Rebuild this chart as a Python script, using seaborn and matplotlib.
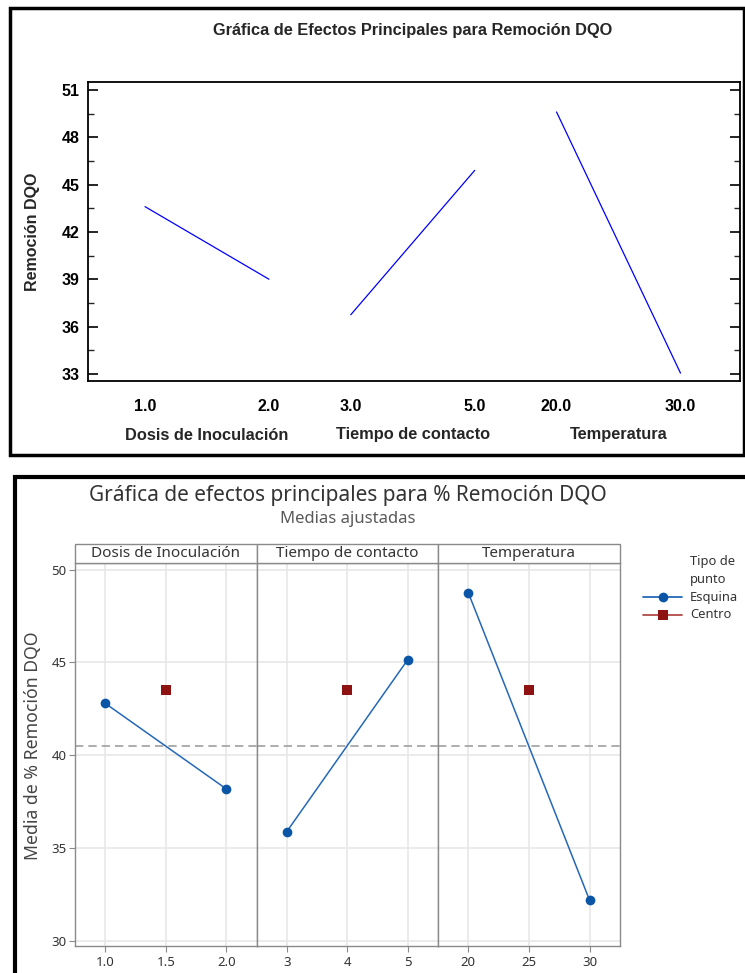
import matplotlib
matplotlib.use("Agg")
import matplotlib.pyplot as plt
import seaborn as sns
import pandas as pd
from matplotlib.patches import Rectangle
from matplotlib.lines import Line2D
from matplotlib.ticker import MultipleLocator

# ---------------- data ----------------
factors = ["Dosis de Inoculación", "Tiempo de contacto", "Temperatura"]

# top chart (Statgraphics style)
top_level_labels = [["1.0", "2.0"], ["3.0", "5.0"], ["20.0", "30.0"]]
top_means = [[43.6, 39.0], [36.75, 45.9], [49.6, 33.05]]
top_yticks = [33, 36, 39, 42, 45, 48, 51]

# bottom chart (Minitab style)
bot_levels = [[1.0, 2.0], [3, 5], [20, 30]]
bot_corner_means = [[42.8, 38.2], [35.9, 45.15], [48.75, 32.2]]
bot_center_levels = [1.5, 4, 25]
bot_center_mean = [43.5, 43.5, 43.5]
grand_mean = 40.5
bot_xticks = [[1.0, 1.5, 2.0], [3, 4, 5], [20, 25, 30]]
bot_xticklabels = [["1.0", "1.5", "2.0"], ["3", "4", "5"], ["20", "25", "30"]]
bot_xlims = [(0.75, 2.25), (2.5, 5.5), (17.5, 32.5)]
bot_yticks = [30, 35, 40, 45, 50]

# ---------------- setup ----------------
sns.set_theme(style="white")
plt.rcParams['font.family'] = ['Liberation Sans', 'DejaVu Sans']

W, H = 745, 973
fig = plt.figure(figsize=(W / 100, H / 100), dpi=100)


def fx(px):
    return px / W


def fy(py):
    return 1 - py / H


def rect(l, t, r, b):
    return [l / W, 1 - b / H, (r - l) / W, (b - t) / H]


# ================= TOP CHART =================
fig.add_artist(Rectangle((fx(10), fy(455)), (744 - 10) / W, (455 - 8) / H,
                         transform=fig.transFigure, fill=False, lw=2.5,
                         edgecolor='black'))

ax = fig.add_axes(rect(88, 82, 740, 381))
slot = 1.66
rows = []
for i, f in enumerate(factors):
    for j, (lab, v) in enumerate(zip(top_level_labels[i], top_means[i])):
        rows.append({"factor": f, "pos": i * slot + j, "label": lab, "value": v})
top_df = pd.DataFrame(rows)
for f in factors:
    sub = top_df[top_df["factor"] == f]
    sns.lineplot(data=sub, x="pos", y="value", ax=ax, color="#0000ff", lw=0.9,
                 estimator=None)
ax.set_xlim(-0.46, 4.80)
ax.set_ylim(32.55, 51.5)
ax.set_yticks(top_yticks)
ax.yaxis.set_minor_locator(MultipleLocator(1.5))
ax.set_xticks(top_df["pos"])
ax.set_xticklabels(top_df["label"], fontweight="bold", fontsize=11.5)
ax.tick_params(axis='x', length=0, pad=13, colors='black')
ax.tick_params(axis='y', which='major', direction='in', length=7, width=1.2,
               left=True, right=True, labelsize=11.5, pad=6, colors='black')
ax.tick_params(axis='y', which='minor', direction='in', length=4, width=1.0,
               left=True, right=True)
for lbl in ax.get_yticklabels():
    lbl.set_fontweight("bold")
for s in ax.spines.values():
    s.set_color("black")
    s.set_linewidth(1.3)
ax.set_xlabel("")
ax.set_ylabel("")
fig.text(fx(413), fy(31), "Gráfica de Efectos Principales para Remoción DQO",
         ha="center", va="center", fontsize=11.8, fontweight="bold")
fig.text(fx(32), fy(232), "Remoción DQO", rotation=90, ha="center", va="center",
         fontsize=11.5, fontweight="bold")
for i, f in enumerate(factors):
    xp = ax.transData.transform((i * slot + 0.5, 0))[0]
    fig.text(xp / fig.dpi / fig.get_figwidth(), fy(435), f, ha="center",
             va="center", fontsize=11.8, fontweight="bold")

# ================= BOTTOM CHART =================
mfont = ['Noto Sans', 'DejaVu Sans']
fig.add_artist(Rectangle((fx(15), fy(1010)), 800 / W, (1010 - 477) / H,
                         transform=fig.transFigure, fill=False, lw=3,
                         edgecolor='black', clip_on=False))

fig.text(fx(348), fy(495), "Gráfica de efectos principales para % Remoción DQO",
         ha="center", va="center", fontsize=15, color="#333333", family=mfont)
fig.text(fx(348), fy(519), "Medias ajustadas", ha="center", va="center",
         fontsize=12, color="#595959", family=mfont)
fig.text(fx(33), fy(746), "Media de % Remoción DQO", rotation=90, ha="center",
         va="center", fontsize=12.7, color="#444444", family=mfont)

edges = [75, 256.5, 438, 620]
blue_line = "#2568b8"
blue_mark = "#0a55a6"
red_mark = "#8f1212"
gray_edge = "#8a8a8a"
axes = []
for i, f in enumerate(factors):
    a = fig.add_axes(rect(edges[i], 563, edges[i + 1], 946))
    axes.append(a)
    a.set_xlim(*bot_xlims[i])
    a.set_ylim(29.75, 50.35)
    a.set_xticks(bot_xticks[i])
    a.set_xticklabels(bot_xticklabels[i], family=mfont)
    a.set_yticks(bot_yticks)
    a.grid(True, color="#e6e6e6", lw=1.1, zorder=0)
    a.set_axisbelow(True)
    a.axhline(grand_mean, color="#a0a0a0", lw=1.2, ls=(0, (5, 3)), zorder=2)
    sns.lineplot(x=bot_levels[i], y=bot_corner_means[i], ax=a, color=blue_line,
                 lw=1.1, marker="o", markersize=7, markerfacecolor=blue_mark,
                 markeredgecolor=blue_mark, markeredgewidth=0, zorder=3)
    sns.scatterplot(x=[bot_center_levels[i]], y=[bot_center_mean[i]], ax=a,
                    marker="s", s=55, color=red_mark, linewidth=0, zorder=4)
    a.tick_params(axis='x', length=4, width=0.8, color=gray_edge, labelsize=9.5,
                  labelcolor="#333333", pad=3, direction='out', bottom=True)
    if i == 0:
        a.tick_params(axis='y', length=4, width=0.8, color=gray_edge,
                      labelsize=9.5, labelcolor="#333333", pad=2,
                      direction='out', left=True)
        for lbl in a.get_yticklabels():
            lbl.set_family(mfont)
    else:
        a.tick_params(axis='y', left=False, labelleft=False)
    for s in a.spines.values():
        s.set_color(gray_edge)
        s.set_linewidth(1.0)
    a.set_xlabel("")
    a.set_ylabel("")
    # strip
    fig.add_artist(Rectangle((fx(edges[i]), fy(563)), (edges[i + 1] - edges[i]) / W,
                             (563 - 544) / H, transform=fig.transFigure,
                             facecolor="white", edgecolor=gray_edge, lw=1.0))
    fig.text(fx((edges[i] + edges[i + 1]) / 2), fy(553.5), f, ha="center",
             va="center", fontsize=11, color="#333333", family=mfont)

# legend
lg_font = 9.3
fig.text(fx(690), fy(561), "Tipo de", ha="left", va="center", fontsize=lg_font,
         color="#333333", family=mfont)
fig.text(fx(690), fy(579), "punto", ha="left", va="center", fontsize=lg_font,
         color="#333333", family=mfont)
fig.add_artist(Line2D([fx(643), fx(682)], [fy(597), fy(597)], color=blue_line,
                      lw=1.3, transform=fig.transFigure))
fig.add_artist(Line2D([fx(662.5)], [fy(597)], marker="o", markersize=7,
                      color=blue_mark, markeredgewidth=0, transform=fig.transFigure))
fig.text(fx(690), fy(597), "Esquina", ha="left", va="center", fontsize=lg_font,
         color="#333333", family=mfont)
fig.add_artist(Line2D([fx(643), fx(682)], [fy(615), fy(615)], color="#b04a4a",
                      lw=1.3, transform=fig.transFigure))
fig.add_artist(Line2D([fx(662.5)], [fy(615)], marker="s", markersize=7,
                      color=red_mark, markeredgewidth=0, transform=fig.transFigure))
fig.text(fx(690), fy(615), "Centro", ha="left", va="center", fontsize=lg_font,
         color="#333333", family=mfont)

fig.savefig("out.png", dpi=100)
